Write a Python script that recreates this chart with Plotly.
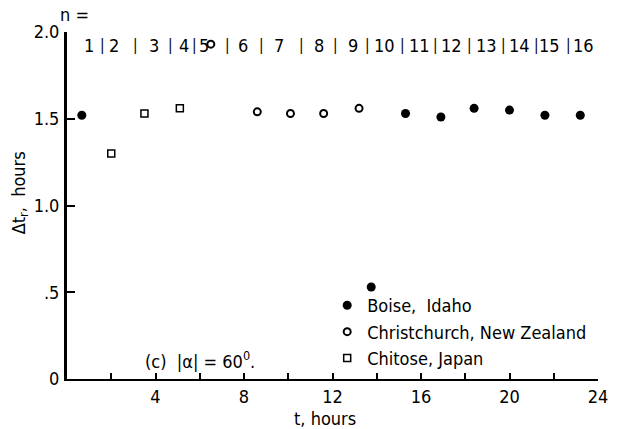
import plotly.graph_objects as go

# ---- data ----
boise_t = [0.67, 13.75, 15.3, 16.9, 18.4, 20.0, 21.6, 23.2]
boise_dt = [1.52, 0.53, 1.53, 1.51, 1.56, 1.55, 1.52, 1.52]

christ_t = [6.5, 8.6, 10.1, 11.6, 13.2]
christ_dt = [1.93, 1.54, 1.53, 1.53, 1.56]

chitose_t = [2.0, 3.5, 5.1]
chitose_dt = [1.30, 1.53, 1.56]

n_labels = ["1", "2", "3", "4", "5", "6", "7", "8", "9", "10", "11", "12", "13", "14", "15", "16"]

x_tick_vals = [0, 2, 4, 6, 8, 10, 12, 14, 16, 18, 20, 22, 24]
x_tick_text = ["", "", "4", "", "8", "", "12", "", "16", "", "20", "", "24"]
y_tick_vals = [0, 0.5, 1.0, 1.5, 2.0]
y_tick_text = ["0", ".5", "1.0", "1.5", "2.0"]

# ---- layout positions (not data) ----
n_label_x = [0.98, 2.13, 3.91, 5.3, 6.18, 7.96, 9.56, 11.38, 12.93, 14.36, 15.91, 17.38, 18.98, 20.44, 21.82, 23.33]
n_sep_x = [1.6, 3.11, 4.67, 5.75, 7.24, 8.8, 10.62, 12.13, 13.6, 15.16, 16.67, 18.18, 19.73, 21.2, 22.67, 24.22]
n_row_y = 1.925

FONT = "Liberation Sans Narrow, DejaVu Sans Condensed, Arial Narrow, sans-serif"
TXT = dict(family=FONT, size=18, color="black")

fig = go.Figure()
fig.add_trace(go.Scatter(x=boise_t, y=boise_dt, mode="markers", name="Boise,  Idaho",
                         marker=dict(symbol="circle", size=9, color="black"), cliponaxis=False))
fig.add_trace(go.Scatter(x=christ_t, y=christ_dt, mode="markers", name="Christchurch, New Zealand",
                         marker=dict(symbol="circle-open", size=7, color="black", line=dict(width=2)), cliponaxis=False))
fig.add_trace(go.Scatter(x=chitose_t, y=chitose_dt, mode="markers", name="Chitose, Japan",
                         marker=dict(symbol="square-open", size=7, color="black", line=dict(width=1.5)), cliponaxis=False))

annotations = []
for lab, xv in zip(n_labels, n_label_x):
    annotations.append(dict(x=xv, y=n_row_y, xref="x", yref="y", text=lab, showarrow=False, font=TXT))
for xv in n_sep_x:
    annotations.append(dict(x=xv, y=n_row_y, xref="x", yref="y", text="|", showarrow=False,
                            font=dict(family=FONT, size=15, color="black")))
annotations.append(dict(x=0, y=1, xref="paper", yref="paper", xanchor="center", yanchor="middle",
                        xshift=7, yshift=18, text="n =", showarrow=False, font=TXT))
annotations.append(dict(x=6.0, y=0.11, xref="x", yref="y", text="(c)  |α| = 60<sup>0</sup>.",
                        showarrow=False, font=TXT))
annotations.append(dict(x=0.486, y=0, xref="paper", yref="paper", yanchor="top", yshift=-27,
                        text="t, hours", showarrow=False, font=TXT))
annotations.append(dict(x=0, y=0.535, xref="paper", yref="paper", xanchor="center", yanchor="middle",
                        xshift=-47, textangle=-90,
                        text="Δt<sub>r</sub>,  hours", showarrow=False, font=TXT))

fig.update_layout(
    width=620, height=429,
    margin=dict(l=67, r=12, t=32, b=50),
    paper_bgcolor="white", plot_bgcolor="white",
    font=dict(family=FONT, size=17, color="black"),
    showlegend=True,
    legend=dict(x=0.49, y=0.265, xanchor="left", yanchor="top", bgcolor="rgba(0,0,0,0)",
                font=TXT, itemwidth=30, tracegroupgap=0),
    annotations=annotations,
    xaxis=dict(range=[0, 24], showgrid=False, zeroline=False, showline=True, linecolor="black", linewidth=2,
               ticks="inside", ticklen=6, tickwidth=2, tickcolor="black",
               tickvals=x_tick_vals, ticktext=x_tick_text, ticklabelstandoff=0,
               tickfont=TXT),
    yaxis=dict(range=[0, 2.0], showgrid=False, zeroline=False, showline=True, linecolor="black", linewidth=3,
               ticks="inside", ticklen=8, tickwidth=2, tickcolor="black",
               tickvals=y_tick_vals, ticktext=y_tick_text, ticklabelstandoff=1,
               tickfont=TXT),
)

fig.write_html("out.html")
